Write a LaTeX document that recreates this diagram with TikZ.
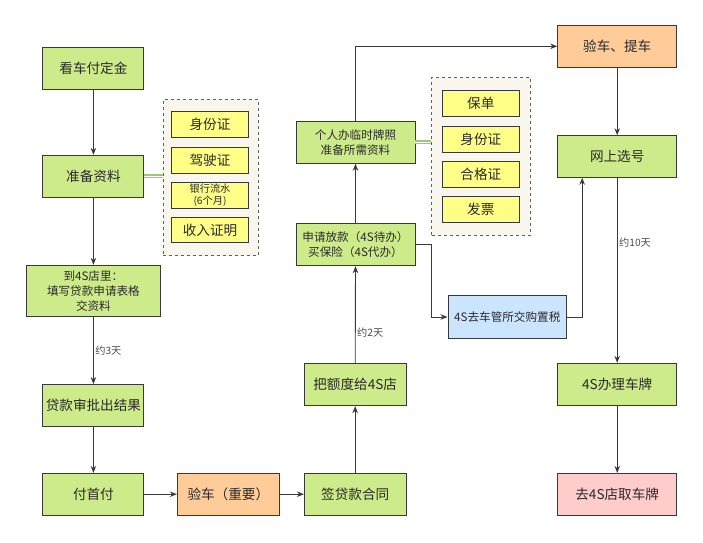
\documentclass[tikz,border=0pt]{standalone}
\usepackage{fontspec}
\setmainfont{Noto Sans CJK SC}
\usetikzlibrary{arrows.meta}
\definecolor{gfill}{HTML}{CDEB8B}
\definecolor{yfill}{HTML}{FFFF88}
\definecolor{ofill}{HTML}{FFCC99}
\definecolor{bfill}{HTML}{CCE5FF}
\definecolor{pfill}{HTML}{FFCCCC}
\definecolor{grpfill}{HTML}{F9F7ED}
\definecolor{edge}{HTML}{36393D}
\definecolor{txt}{HTML}{2A2A2A}
\definecolor{linkg}{HTML}{97CC70}
\begin{document}
\begin{tikzpicture}[x=1pt,y=-1pt,
  base/.style={draw=edge, line width=0.9pt, text=txt, align=center, inner sep=1pt},
  gbox/.style={base, fill=gfill},
  ybox/.style={base, fill=yfill, minimum width=77pt, minimum height=25.8pt, font=\fontsize{13.6}{16}\selectfont},
  bigf/.style={font=\fontsize{13.6}{16}\selectfont},
  midf/.style={font=\fontsize{11.6}{15}\selectfont},
  smallf/.style={font=\fontsize{10.2}{12.5}\selectfont},
  grp/.style={draw=edge!80, dashed, line width=0.8pt, fill=grpfill},
  arr/.style={draw=edge, line width=0.9pt, -{Stealth[length=7pt,width=5.5pt]}},
  linkline/.style={draw=linkg, double=white, double distance=1.4pt, line width=1.4pt},
  elab/.style={font=\fontsize{10.2}{12}\selectfont, text=txt!85, inner sep=1pt, anchor=west}]
\useasboundingbox (0,0) rectangle (703,542);
% left column
\node[gbox,bigf,minimum width=101pt,minimum height=42pt] (a1) at (93.4,68) {看车付定金};
\node[gbox,bigf,minimum width=101pt,minimum height=42pt] (a2) at (93.4,176.3) {准备资料};
\node[gbox,midf,minimum width=134.7pt,minimum height=51.4pt] (a3) at (93.4,291) {到4S店里：\\填写贷款申请表格\\交资料};
\node[gbox,bigf,minimum width=101pt,minimum height=42pt] (a4) at (93.4,405.5) {贷款审批出结果};
\node[gbox,bigf,minimum width=101pt,minimum height=41.7pt] (a5) at (93.4,494.2) {付首付};
\node[base,fill=ofill,bigf,minimum width=102pt,minimum height=41.7pt] (b1) at (228.3,494.2) {验车（重要）};
% middle column
\node[gbox,bigf,minimum width=101.7pt,minimum height=41.7pt] (c1) at (355.2,494.2) {签贷款合同};
\node[gbox,bigf,minimum width=101.7pt,minimum height=42.4pt] (c2) at (355.2,384.5) {把额度给4S店};
\node[gbox,midf,minimum width=119pt,minimum height=42.4pt] (c3) at (355.5,244.5) {申请放款（4S待办）\\买保险（4S代办）};
\node[gbox,midf,minimum width=119pt,minimum height=42.3pt] (c4) at (355.5,142.2) {个人办临时牌照\\准备所需资料};
% right column
\node[base,fill=ofill,bigf,minimum width=119pt,minimum height=42.7pt] (d1) at (617.2,46.3) {验车、提车};
\node[gbox,bigf,minimum width=119pt,minimum height=41.6pt] (d2) at (617.2,156.5) {网上选号};
\node[base,fill=bfill,midf,minimum width=118.7pt,minimum height=42.6pt] (d3) at (507.3,317) {4S去车管所交购置税};
\node[gbox,bigf,minimum width=119pt,minimum height=42.4pt] (d4) at (617.2,384.5) {4S办理车牌};
\node[base,fill=pfill,bigf,minimum width=119pt,minimum height=41.7pt] (d5) at (617.2,494.2) {去4S店取车牌};
% group 1
\node[grp,minimum width=95pt,minimum height=156.4pt] (g1) at (210.8,177.5) {};
\node[ybox] (y1) at (210,124.5) {身份证};
\node[ybox] (y2) at (210,160.3) {驾驶证};
\node[ybox,smallf] (y3) at (210,195.3) {银行流水\\(6个月)};
\node[ybox] (y4) at (210,230) {收入证明};
% group 2
\node[grp,minimum width=99pt,minimum height=157.3pt] (g2) at (481.2,156.3) {};
\node[ybox] (z1) at (480.8,103.7) {保单};
\node[ybox] (z2) at (480.8,139.5) {身份证};
\node[ybox] (z3) at (480.8,174.5) {合格证};
\node[ybox] (z4) at (480.8,209.5) {发票};
% links
\draw[linkline] (a2.east) -- (g1.west |- a2.east);
\draw[linkline] (c4.east) -- (g2.west |- c4.east);
% arrows
\draw[arr] (a1) -- (a2);
\draw[arr] (a2) -- (a3);
\draw[arr] (a3) -- (a4) node[elab, pos=0.5, xshift=0.5pt] (l1) {约3天};
\draw[arr] (a4) -- (a5);
\draw[arr] (a5) -- (b1);
\draw[arr] (b1) -- (c1);
\draw[arr] (c1) -- (c2);
\draw[arr] (c2.north) -- (c3.south) node[elab, pos=0.31, xshift=0.5pt] (l2) {约2天};
\draw[arr] (c3) -- (c4);
\draw[arr] (c4.north) |- (d1.west);
\draw[arr] (c3.east) -- ++(16.2,0) |- (d3.west);
\draw[arr] (d3.east) -| ([xshift=-35pt]d2.south);
\draw[arr] (d1) -- (d2);
\draw[arr] (d2) -- (d4) node[elab, pos=0.35, xshift=0.5pt] (l3) {约10天};
\draw[arr] (d4) -- (d5);
\end{tikzpicture}
\end{document}
